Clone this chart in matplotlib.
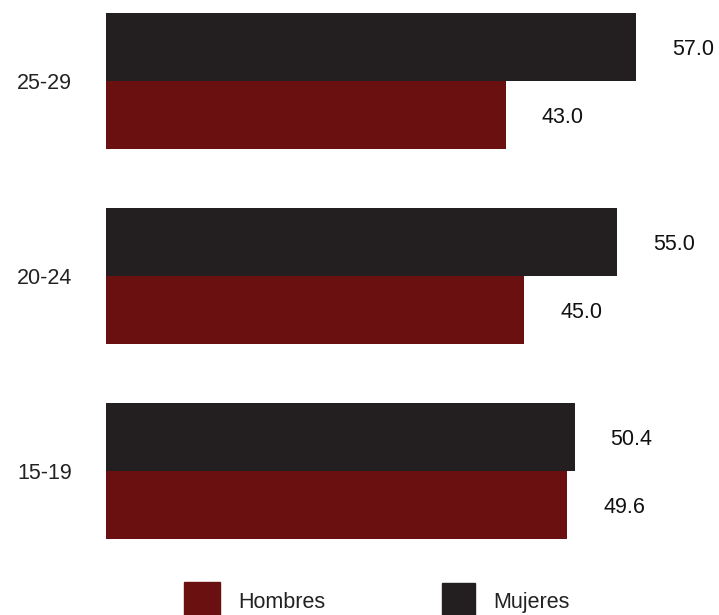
import matplotlib
matplotlib.use("Agg")
import matplotlib.pyplot as plt
from matplotlib.patches import Rectangle

categories = ["15-19", "20-24", "25-29"]
hombres = [49.6, 45.0, 43.0]
mujeres = [50.4, 55.0, 57.0]
series_names = ["Hombres", "Mujeres"]

RED = "#6A1010"
BLACK = "#231F20"
FONT = "Liberation Sans"
FS = 15.5

W, H = 719, 615
fig = plt.figure(figsize=(W / 100, H / 100), dpi=100)
ax = fig.add_axes([106 / W, 0, 1 - 106 / W, 1])

px_per_unit = (636 - 106) / 57.0
ax.set_xlim(0, (W - 106) / px_per_unit)
ax.set_ylim(-144 / 195, 471 / 195)
bh = 68 / 195

ys = list(range(len(categories)))
ax.barh([y - bh / 2 for y in ys], hombres, height=bh, color=RED)
ax.barh([y + bh / 2 for y in ys], mujeres, height=bh, color=BLACK)

off = 57 / px_per_unit
for y, v in zip(ys, hombres):
    ax.text(v + off, y - bh / 2, f"{v:.1f}", ha="center", va="center_baseline",
            fontsize=FS, family=FONT, color="#111111")
for y, v in zip(ys, mujeres):
    ax.text(v + off, y + bh / 2, f"{v:.1f}", ha="center", va="center_baseline",
            fontsize=FS, family=FONT, color="#111111")

for y, c in zip(ys, categories):
    ax.text(-34 / px_per_unit, y, c, ha="right", va="center_baseline",
            fontsize=FS, family=FONT, color="#222222")

ax.axis("off")

# legend
fig.patches.append(Rectangle((184 / W, 0), 36 / W, 33 / H, transform=fig.transFigure,
                             color=RED, clip_on=False))
fig.text(238 / W, 1 - 600 / H, series_names[0], ha="left", va="center_baseline",
         fontsize=FS, family=FONT, color="#222222")
fig.patches.append(Rectangle((442 / W, 0), 33 / W, 32 / H, transform=fig.transFigure,
                             color=BLACK, clip_on=False))
fig.text(493 / W, 1 - 600 / H, series_names[1], ha="left", va="center_baseline",
         fontsize=FS, family=FONT, color="#222222")

fig.savefig("out.png", dpi=100)
